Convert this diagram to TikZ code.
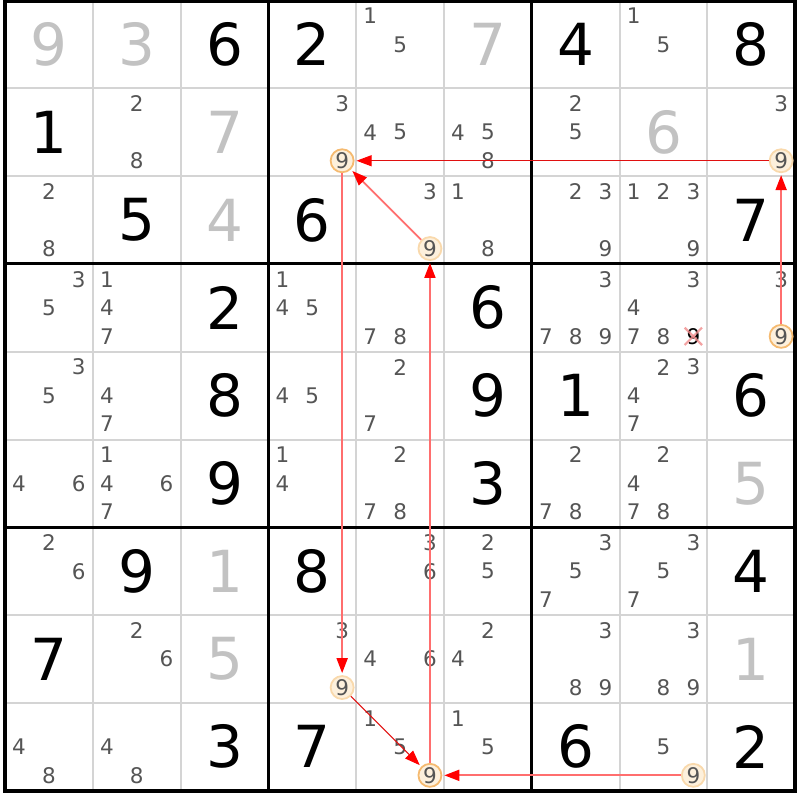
\documentclass[tikz,border=0pt]{standalone}
\usepackage{fontspec}
\setmainfont{DejaVu Sans}
\usepackage{color}
\usetikzlibrary{arrows.meta}
\definecolor{thingrid}{HTML}{D4D4D4}
\definecolor{solvedgray}{HTML}{C2C2C2}
\definecolor{pencilgray}{HTML}{555555}
\definecolor{ringfill}{HTML}{FDF0DC}
\definecolor{ringstrong}{HTML}{F5BA70}
\definecolor{ringweak}{HTML}{F9D9AC}
\definecolor{linklight}{HTML}{FF6E6E}
\definecolor{linkdark}{HTML}{E01010}
\definecolor{crosspink}{HTML}{F08C8C}

\begin{document}
\begin{tikzpicture}[x=87.8pt,y=-87.8pt,
	given/.style={inner sep=0pt,font=\fontsize{58}{58}\selectfont},
	solved/.style={given,text=solvedgray},
	cand/.style={inner sep=0pt,text=pencilgray,font=\fontsize{21.5}{21.5}\selectfont},
	ringstr/.style={cand,circle,draw=ringstrong,fill=ringfill,line width=1.8pt,minimum size=23pt},
	ringwk/.style={cand,circle,draw=ringweak,fill=ringfill,line width=1.8pt,minimum size=23pt},
	struck/.style={cand,text=black,minimum width=17pt,minimum height=17pt},
	strong/.style={draw=linklight,line width=1.9pt,-{Triangle[length=15pt,width=11pt,color=red]},shorten >=2pt},
	weak/.style={draw=linkdark,line width=1pt,-{Triangle[length=15pt,width=11pt,color=red]},shorten >=2pt}]
			\useasboundingbox (-0.057,-0.006) rectangle (9.055,9.106);
			% thin cell lines
			\draw[thingrid,line width=2pt] (1,0) -- (1,9);
			\draw[thingrid,line width=2pt] (2,0) -- (2,9);
			\draw[thingrid,line width=2pt] (4,0) -- (4,9);
			\draw[thingrid,line width=2pt] (5,0) -- (5,9);
			\draw[thingrid,line width=2pt] (7,0) -- (7,9);
			\draw[thingrid,line width=2pt] (8,0) -- (8,9);
			\draw[thingrid,line width=2pt] (0,1) -- (9,1);
			\draw[thingrid,line width=2pt] (0,2) -- (9,2);
			\draw[thingrid,line width=2pt] (0,4) -- (9,4);
			\draw[thingrid,line width=2pt] (0,5) -- (9,5);
			\draw[thingrid,line width=2pt] (0,7) -- (9,7);
			\draw[thingrid,line width=2pt] (0,8) -- (9,8);
			% box lines
			\draw[line width=3pt] (3,0) -- (3,9);
			\draw[line width=3pt] (6,0) -- (6,9);
			\draw[line width=3pt] (0,3) -- (9,3);
			\draw[line width=3pt] (0,6) -- (9,6);
			\draw[line width=4pt] (0,0) rectangle (9,9);
			% big digits
			\node[solved] (g11)at(0.5,0.5) {9};
			\node[solved] (g12)at(1.5,0.5) {3};
			\node[given] (g13)at(2.5,0.5) {6};
			\node[given] (g14)at(3.5,0.5) {2};
			\node[solved] (g16)at(5.5,0.5) {7};
			\node[given] (g17)at(6.5,0.5) {4};
			\node[given] (g19)at(8.5,0.5) {8};
			\node[given] (g21)at(0.5,1.5) {1};
			\node[solved] (g23)at(2.5,1.5) {7};
			\node[solved] (g28)at(7.5,1.5) {6};
			\node[given] (g32)at(1.5,2.5) {5};
			\node[solved] (g33)at(2.5,2.5) {4};
			\node[given] (g34)at(3.5,2.5) {6};
			\node[given] (g39)at(8.5,2.5) {7};
			\node[given] (g43)at(2.5,3.5) {2};
			\node[given] (g46)at(5.5,3.5) {6};
			\node[given] (g53)at(2.5,4.5) {8};
			\node[given] (g56)at(5.5,4.5) {9};
			\node[given] (g57)at(6.5,4.5) {1};
			\node[given] (g59)at(8.5,4.5) {6};
			\node[given] (g63)at(2.5,5.5) {9};
			\node[given] (g66)at(5.5,5.5) {3};
			\node[solved] (g69)at(8.5,5.5) {5};
			\node[given] (g72)at(1.5,6.5) {9};
			\node[solved] (g73)at(2.5,6.5) {1};
			\node[given] (g74)at(3.5,6.5) {8};
			\node[given] (g79)at(8.5,6.5) {4};
			\node[given] (g81)at(0.5,7.5) {7};
			\node[solved] (g83)at(2.5,7.5) {5};
			\node[solved] (g89)at(8.5,7.5) {1};
			\node[given] (g93)at(2.5,8.5) {3};
			\node[given] (g94)at(3.5,8.5) {7};
			\node[given] (g97)at(6.5,8.5) {6};
			\node[given] (g99)at(8.5,8.5) {2};
			% pencil marks
			\node[cand] (p15n1)at(4.16,0.175) {1};
			\node[cand] (p15n5)at(4.5,0.5) {5};
			\node[cand] (p18n1)at(7.16,0.175) {1};
			\node[cand] (p18n5)at(7.5,0.5) {5};
			\node[cand] (p22n2)at(1.5,1.175) {2};
			\node[cand] (p22n8)at(1.5,1.825) {8};
			\node[cand] (p24n3)at(3.84,1.175) {3};
			\node[ringstr] (p24n9)at(3.84,1.825) {9};
			\node[cand] (p25n4)at(4.16,1.5) {4};
			\node[cand] (p25n5)at(4.5,1.5) {5};
			\node[cand] (p26n4)at(5.16,1.5) {4};
			\node[cand] (p26n5)at(5.5,1.5) {5};
			\node[cand] (p26n8)at(5.5,1.825) {8};
			\node[cand] (p27n2)at(6.5,1.175) {2};
			\node[cand] (p27n5)at(6.5,1.5) {5};
			\node[cand] (p29n3)at(8.84,1.175) {3};
			\node[ringwk] (p29n9)at(8.84,1.825) {9};
			\node[cand] (p31n2)at(0.5,2.175) {2};
			\node[cand] (p31n8)at(0.5,2.825) {8};
			\node[cand] (p35n3)at(4.84,2.175) {3};
			\node[ringwk] (p35n9)at(4.84,2.825) {9};
			\node[cand] (p36n1)at(5.16,2.175) {1};
			\node[cand] (p36n8)at(5.5,2.825) {8};
			\node[cand] (p37n2)at(6.5,2.175) {2};
			\node[cand] (p37n3)at(6.84,2.175) {3};
			\node[cand] (p37n9)at(6.84,2.825) {9};
			\node[cand] (p38n1)at(7.16,2.175) {1};
			\node[cand] (p38n2)at(7.5,2.175) {2};
			\node[cand] (p38n3)at(7.84,2.175) {3};
			\node[cand] (p38n9)at(7.84,2.825) {9};
			\node[cand] (p41n3)at(0.84,3.175) {3};
			\node[cand] (p41n5)at(0.5,3.5) {5};
			\node[cand] (p42n1)at(1.16,3.175) {1};
			\node[cand] (p42n4)at(1.16,3.5) {4};
			\node[cand] (p42n7)at(1.16,3.825) {7};
			\node[cand] (p44n1)at(3.16,3.175) {1};
			\node[cand] (p44n4)at(3.16,3.5) {4};
			\node[cand] (p44n5)at(3.5,3.5) {5};
			\node[cand] (p45n7)at(4.16,3.825) {7};
			\node[cand] (p45n8)at(4.5,3.825) {8};
			\node[cand] (p47n3)at(6.84,3.175) {3};
			\node[cand] (p47n7)at(6.16,3.825) {7};
			\node[cand] (p47n8)at(6.5,3.825) {8};
			\node[cand] (p47n9)at(6.84,3.825) {9};
			\node[cand] (p48n3)at(7.84,3.175) {3};
			\node[cand] (p48n4)at(7.16,3.5) {4};
			\node[cand] (p48n7)at(7.16,3.825) {7};
			\node[cand] (p48n8)at(7.5,3.825) {8};
			\node[struck] (p48n9)at(7.84,3.825) {9};
			\node[cand] (p49n3)at(8.84,3.175) {3};
			\node[ringstr] (p49n9)at(8.84,3.825) {9};
			\node[cand] (p51n3)at(0.84,4.175) {3};
			\node[cand] (p51n5)at(0.5,4.5) {5};
			\node[cand] (p52n4)at(1.16,4.5) {4};
			\node[cand] (p52n7)at(1.16,4.825) {7};
			\node[cand] (p54n4)at(3.16,4.5) {4};
			\node[cand] (p54n5)at(3.5,4.5) {5};
			\node[cand] (p55n2)at(4.5,4.175) {2};
			\node[cand] (p55n7)at(4.16,4.825) {7};
			\node[cand] (p58n2)at(7.5,4.175) {2};
			\node[cand] (p58n3)at(7.84,4.175) {3};
			\node[cand] (p58n4)at(7.16,4.5) {4};
			\node[cand] (p58n7)at(7.16,4.825) {7};
			\node[cand] (p61n4)at(0.16,5.5) {4};
			\node[cand] (p61n6)at(0.84,5.5) {6};
			\node[cand] (p62n1)at(1.16,5.175) {1};
			\node[cand] (p62n4)at(1.16,5.5) {4};
			\node[cand] (p62n6)at(1.84,5.5) {6};
			\node[cand] (p62n7)at(1.16,5.825) {7};
			\node[cand] (p64n1)at(3.16,5.175) {1};
			\node[cand] (p64n4)at(3.16,5.5) {4};
			\node[cand] (p65n2)at(4.5,5.175) {2};
			\node[cand] (p65n7)at(4.16,5.825) {7};
			\node[cand] (p65n8)at(4.5,5.825) {8};
			\node[cand] (p67n2)at(6.5,5.175) {2};
			\node[cand] (p67n7)at(6.16,5.825) {7};
			\node[cand] (p67n8)at(6.5,5.825) {8};
			\node[cand] (p68n2)at(7.5,5.175) {2};
			\node[cand] (p68n4)at(7.16,5.5) {4};
			\node[cand] (p68n7)at(7.16,5.825) {7};
			\node[cand] (p68n8)at(7.5,5.825) {8};
			\node[cand] (p71n2)at(0.5,6.175) {2};
			\node[cand] (p71n6)at(0.84,6.5) {6};
			\node[cand] (p75n3)at(4.84,6.175) {3};
			\node[cand] (p75n6)at(4.84,6.5) {6};
			\node[cand] (p76n2)at(5.5,6.175) {2};
			\node[cand] (p76n5)at(5.5,6.5) {5};
			\node[cand] (p77n3)at(6.84,6.175) {3};
			\node[cand] (p77n5)at(6.5,6.5) {5};
			\node[cand] (p77n7)at(6.16,6.825) {7};
			\node[cand] (p78n3)at(7.84,6.175) {3};
			\node[cand] (p78n5)at(7.5,6.5) {5};
			\node[cand] (p78n7)at(7.16,6.825) {7};
			\node[cand] (p82n2)at(1.5,7.175) {2};
			\node[cand] (p82n6)at(1.84,7.5) {6};
			\node[cand] (p84n3)at(3.84,7.175) {3};
			\node[ringwk] (p84n9)at(3.84,7.825) {9};
			\node[cand] (p85n4)at(4.16,7.5) {4};
			\node[cand] (p85n6)at(4.84,7.5) {6};
			\node[cand] (p86n2)at(5.5,7.175) {2};
			\node[cand] (p86n4)at(5.16,7.5) {4};
			\node[cand] (p87n3)at(6.84,7.175) {3};
			\node[cand] (p87n8)at(6.5,7.825) {8};
			\node[cand] (p87n9)at(6.84,7.825) {9};
			\node[cand] (p88n3)at(7.84,7.175) {3};
			\node[cand] (p88n8)at(7.5,7.825) {8};
			\node[cand] (p88n9)at(7.84,7.825) {9};
			\node[cand] (p91n4)at(0.16,8.5) {4};
			\node[cand] (p91n8)at(0.5,8.825) {8};
			\node[cand] (p92n4)at(1.16,8.5) {4};
			\node[cand] (p92n8)at(1.5,8.825) {8};
			\node[cand] (p95n1)at(4.16,8.175) {1};
			\node[cand] (p95n5)at(4.5,8.5) {5};
			\node[ringstr] (p95n9)at(4.84,8.825) {9};
			\node[cand] (p96n1)at(5.16,8.175) {1};
			\node[cand] (p96n5)at(5.5,8.5) {5};
			\node[cand] (p98n5)at(7.5,8.5) {5};
			\node[ringwk] (p98n9)at(7.84,8.825) {9};
			% eliminated candidate
			\draw[crosspink,line width=2.2pt,opacity=0.8] (p48n9.south west) -- (p48n9.north east);
			\draw[crosspink,line width=2.2pt,opacity=0.8] (p48n9.north west) -- (p48n9.south east);
			% chain
			\draw[strong] (p49n9) -- (p29n9);
			\draw[weak] (p29n9) -- (p24n9);
			\draw[strong] (p35n9) -- (p24n9);
			\draw[strong] (p24n9) -- (p84n9);
			\draw[weak] (p84n9) -- (p95n9);
			\draw[strong] (p95n9) -- (p35n9);
			\draw[strong] (p98n9) -- (p95n9);
\end{tikzpicture}
\end{document}
